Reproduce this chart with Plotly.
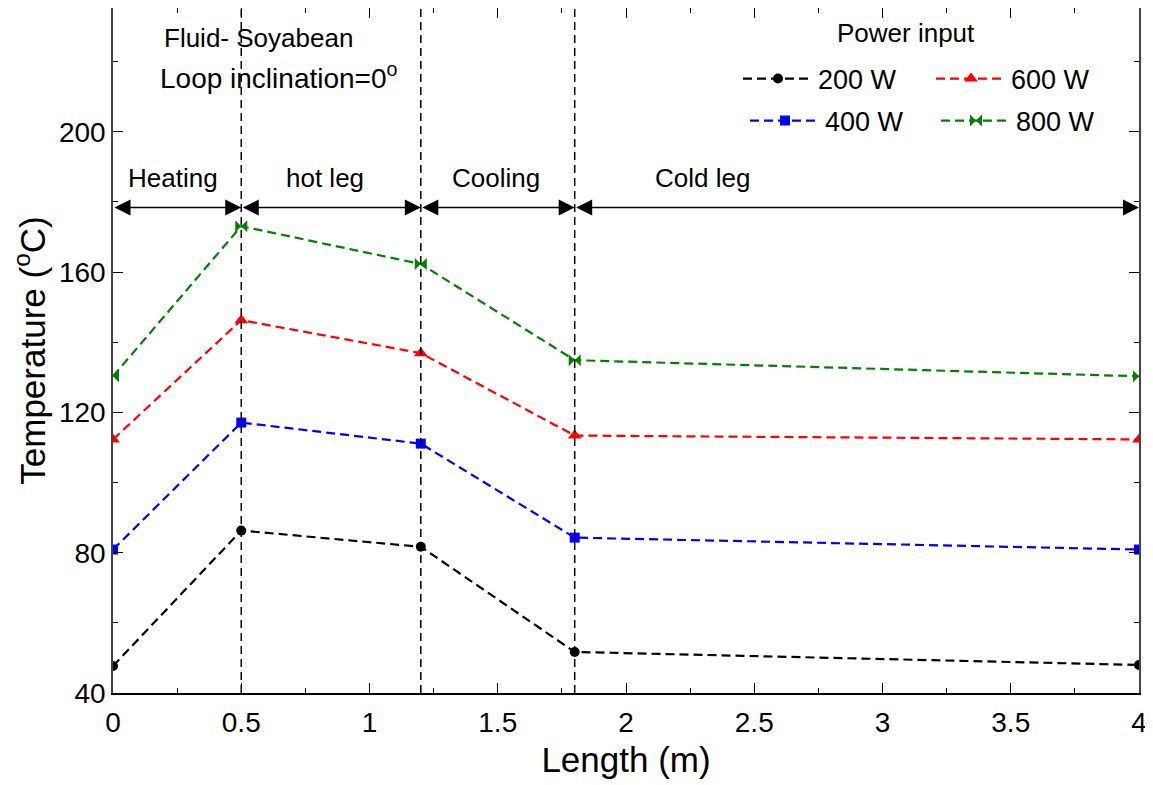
import plotly.graph_objects as go

length_m = [0, 0.5, 1.2, 1.8, 4]
t_200 = [47.7, 86.3, 81.7, 51.7, 48.0]
t_400 = [80.9, 117.1, 111.1, 84.3, 80.9]
t_600 = [112.3, 146.3, 136.9, 113.4, 112.3]
t_800 = [130.3, 173.1, 162.3, 134.9, 130.3]

series_names = ["200 W", "400 W", "600 W", "800 W"]
series_vals = [t_200, t_400, t_600, t_800]
colors = ["black", "#0000ff", "#ff0000", "#008000"]
symbols = ["circle", "square", "triangle-up", "bowtie"]
marker_sizes = [10, 10, 12, 12]
legend_ids = ["legend", "legend2", "legend", "legend2"]

section_bounds = [0, 0.5, 1.2, 1.8, 4]
section_labels = ["Heating", "hot leg", "Cooling", "Cold leg"]
section_label_x = [0.235, 0.825, 1.495, 2.3]
arrow_y = 178.4
label_y = 186.8

FONT = "Liberation Sans, Arial, sans-serif"

# page has an 8px body margin, so the figure is drawn offset by OFF
OFF = 8
W, H = 1153 - OFF, 785 - OFF
ml, mr, mt, mb = 113 - OFF, 14, 0, 92
pw, ph = W - ml - mr, H - mt - mb


def px(xp):
    return (xp - OFF - ml) / pw


def py(yp):
    return (H - mb - (yp - OFF)) / ph


fig = go.Figure()

# vertical dashed section lines
for xb in section_bounds[1:4]:
    fig.add_shape(type="line", x0=xb, x1=xb, y0=40, y1=235.3, xref="x", yref="y",
                  line=dict(color="black", width=1.5, dash="8px,5px"))

for name, vals, c, s, ms, lg in zip(series_names, series_vals, colors, symbols,
                                    marker_sizes, legend_ids):
    fig.add_trace(go.Scatter(
        x=length_m, y=vals, name=name, legend=lg,
        mode="lines+markers",
        line=dict(color=c, width=2.2, dash="9px,5px"),
        marker=dict(color=c, symbol=s, size=ms, line=dict(width=0, color=c)),
    ))

# section arrows and labels
for i in range(4):
    fig.add_annotation(x=section_bounds[i + 1], y=arrow_y, ax=section_bounds[i], ay=arrow_y,
                       xref="x", yref="y", axref="x", ayref="y", text="",
                       showarrow=True, arrowhead=2, startarrowhead=2, arrowside="end+start",
                       arrowsize=2, startarrowsize=2, arrowwidth=1.6, arrowcolor="black",
                       standoff=0, startstandoff=0)
    fig.add_annotation(x=section_label_x[i], y=label_y, xref="x", yref="y",
                       text=section_labels[i], showarrow=False,
                       xanchor="center", yanchor="middle",
                       font=dict(size=26, color="black", family=FONT))

fig.add_annotation(x=px(258), y=py(38), xref="paper", yref="paper", text="Fluid- Soyabean",
                   showarrow=False, xanchor="center", yanchor="middle",
                   font=dict(size=26, color="black", family=FONT))
fig.add_annotation(x=px(279), y=py(76), xref="paper", yref="paper",
                   text="Loop inclination=0<sup>o</sup>",
                   showarrow=False, xanchor="center", yanchor="middle",
                   font=dict(size=28, color="black", family=FONT))
fig.add_annotation(x=px(906), y=py(33), xref="paper", yref="paper", text="Power input",
                   showarrow=False, xanchor="center", yanchor="middle",
                   font=dict(size=26, color="black", family=FONT))

fig.update_layout(
    width=W, height=H,
    margin=dict(l=ml, r=mr, t=mt, b=mb, autoexpand=False),
    paper_bgcolor="white", plot_bgcolor="white",
    font=dict(family=FONT, color="black"),
    showlegend=True,
    legend=dict(orientation="h", x=px(738), y=py(79), xanchor="left", yanchor="middle",
                bgcolor="rgba(0,0,0,0)", font=dict(size=27, family=FONT), entrywidth=108,
                itemwidth=70, traceorder="normal"),
    legend2=dict(orientation="h", x=px(745), y=py(121), xanchor="left", yanchor="middle",
                 bgcolor="rgba(0,0,0,0)", font=dict(size=27, family=FONT), entrywidth=106,
                 itemwidth=70, traceorder="normal"),
    xaxis=dict(range=[0, 4], tickmode="array", tickvals=[0, 0.5, 1, 1.5, 2, 2.5, 3, 3.5, 4],
               ticktext=["0", "0.5", "1", "1.5", "2", "2.5", "3", "3.5", "4"],
               ticks="inside", ticklen=10, tickwidth=1.3, tickcolor="black",
               minor=dict(dtick=0.25, ticks="inside", ticklen=5, tickcolor="black"),
               showline=True, linecolor="black", linewidth=1.5, mirror="ticks",
               showgrid=False, zeroline=False, ticklabelstandoff=4,
               tickfont=dict(size=28, family=FONT),
               title=dict(text="Length (m)", font=dict(size=35, family=FONT), standoff=10)),
    yaxis=dict(range=[40, 235.3], tickmode="array", tickvals=[40, 80, 120, 160, 200],
               ticks="inside", ticklen=10, tickwidth=1.3, tickcolor="black",
               minor=dict(dtick=20, ticks="inside", ticklen=5, tickcolor="black"),
               showline=True, linecolor="#444", linewidth=1.5, mirror="ticks",
               showgrid=False, zeroline=False,
               tickfont=dict(size=28, family=FONT),
               title=dict(text="Temperature (<sup>o</sup>C)", font=dict(size=35, family=FONT),
                          standoff=9)),
)

fig.write_html("out.html")
